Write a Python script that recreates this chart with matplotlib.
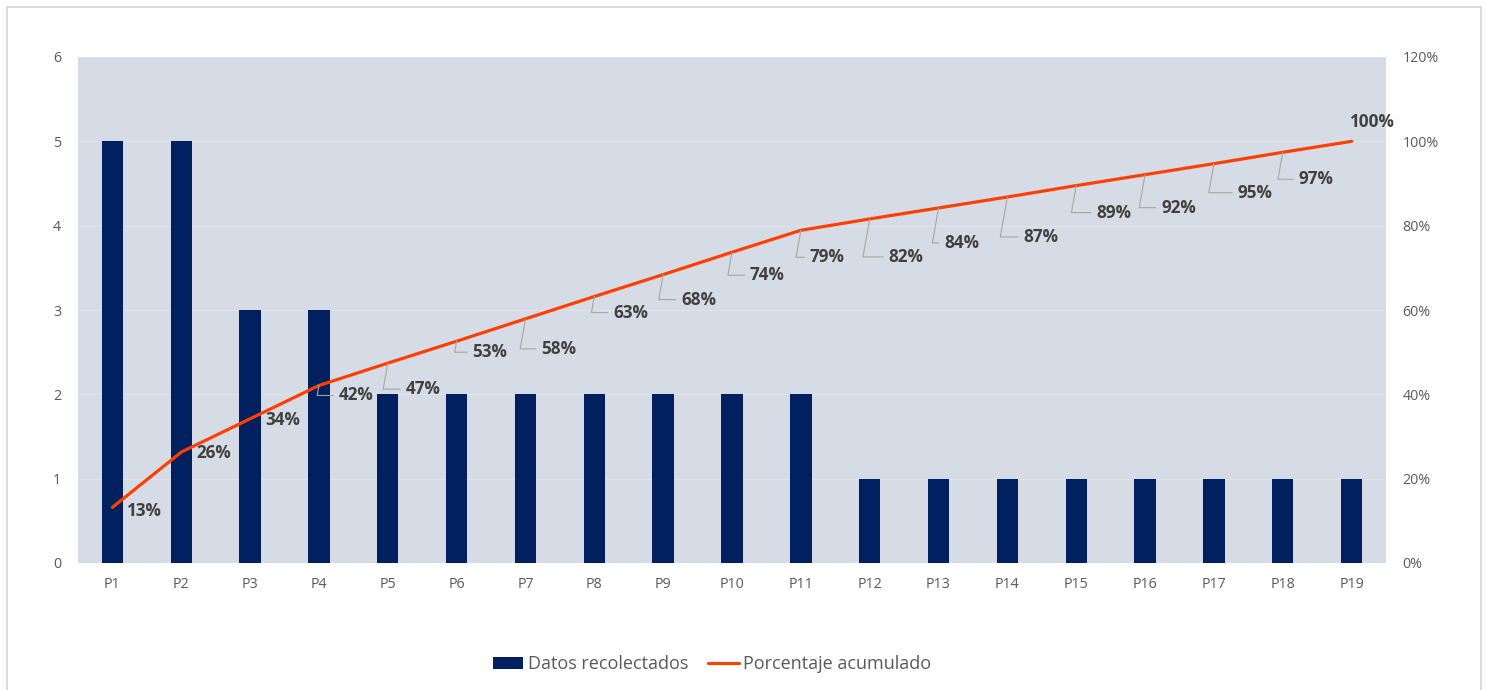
import matplotlib
matplotlib.use("Agg")
import matplotlib.pyplot as plt
from matplotlib.patches import Rectangle

categories = ["P1", "P2", "P3", "P4", "P5", "P6", "P7", "P8", "P9", "P10",
              "P11", "P12", "P13", "P14", "P15", "P16", "P17", "P18", "P19"]
datos = [5, 5, 3, 3, 2, 2, 2, 2, 2, 2, 2, 1, 1, 1, 1, 1, 1, 1, 1]
acumulado = [13.2, 26.3, 34.2, 42.1, 47.4, 52.6, 57.9, 63.2, 68.4, 73.7,
             78.9, 81.6, 84.2, 86.8, 89.5, 92.1, 94.7, 97.4, 100.0]
etiquetas = ["13%", "26%", "34%", "42%", "47%", "53%", "58%", "63%", "68%", "74%",
             "79%", "82%", "84%", "87%", "89%", "92%", "95%", "97%", "100%"]
left_ticks = [0, 1, 2, 3, 4, 5, 6]
right_ticks = [0, 20, 40, 60, 80, 100, 120]
right_ticklabels = ["0%", "20%", "40%", "60%", "80%", "100%", "120%"]

# label offsets (pixels: right, down) for the data labels
label_offsets = [(14, 4), (15, 1), (15, 1), (20, 10), (18, 26), (16, 11), (16, 30),
                 (19, 16), (18, 25), (18, 23), (9, 27), (19, 38), (6, 35), (16, 40),
                 (20, 27), (16, 33), (24, 29), (16, 27), (-3, -19)]

W, H, DPI = 1488, 690, 100
fig = plt.figure(figsize=(W / DPI, H / DPI), dpi=DPI)
fig.patch.set_facecolor("white")

font = ["Open Sans", "DejaVu Sans"]
tick_color = "#595959"
bg = "#d6dce5"

ax = fig.add_axes([78 / W, 1 - 563 / H, (1386 - 78) / W, (563 - 57) / H])
ax.set_facecolor(bg)
x = list(range(len(categories)))
bars = ax.bar(x, datos, width=0.31, color="#002060", zorder=3, label="Datos recolectados")
ax.set_xlim(-0.5, len(categories) - 0.5)
ax.set_ylim(0, 6)
ax.set_yticks(left_ticks)
ax.set_xticks(x)
ax.set_xticklabels(categories)
for y in left_ticks[1:]:
    ax.axhline(y, color="#dfe3e9", lw=0.8, zorder=1)
for s in ax.spines.values():
    s.set_visible(False)
ax.tick_params(axis="both", length=0, colors=tick_color, labelsize=10.3)
ax.tick_params(axis="y", pad=12)
ax.tick_params(axis="x", pad=10)
for t in ax.get_xticklabels() + ax.get_yticklabels():
    t.set_family(font)

ax2 = ax.twinx()
ax2.set_ylim(0, 120)
ax2.set_yticks(right_ticks)
ax2.set_yticklabels(right_ticklabels)
for s in ax2.spines.values():
    s.set_visible(False)
ax2.tick_params(axis="y", length=0, colors=tick_color, labelsize=10.3, pad=12)
for t in ax2.get_yticklabels():
    t.set_family(font)
line, = ax2.plot(x, acumulado, color="#ff3f00", lw=2.3, zorder=4,
                 solid_capstyle="round", label="Porcentaje acumulado")

px = 72 / DPI  # pixel -> points
for xi, yi, lab, (dx, dy) in zip(x, acumulado, etiquetas, label_offsets):
    kw = {}
    if dy >= 8:
        kw["arrowprops"] = dict(arrowstyle="-", color="#a6a6a6", lw=0.8,
                                shrinkA=2, shrinkB=0, relpos=(0, 0.5),
                                connectionstyle="angle,angleA=0,angleB=80,rad=0")
    ax2.annotate(lab, xy=(xi, yi), xytext=(dx * px, -dy * px),
                 textcoords="offset points", ha="left", va="center",
                 fontsize=12.3, fontweight="bold", color="#404040",
                 family=font, zorder=5, **kw)

leg = fig.legend(handles=[bars, line], loc="center", bbox_to_anchor=(712 / W, 1 - 664 / H),
                 ncol=2, frameon=False, prop={"family": font, "size": 13},
                 handlelength=1.7, handleheight=0.65, columnspacing=1.1, handletextpad=0.25)
for t in leg.get_texts():
    t.set_color(tick_color)

fig.patches.append(Rectangle((7 / W, -0.01), (1481 - 7) / W, 1 - 7 / H + 0.01,
                             transform=fig.transFigure, fill=False,
                             edgecolor="#d9d9d9", lw=1.3))

fig.savefig("out.png", dpi=DPI)
